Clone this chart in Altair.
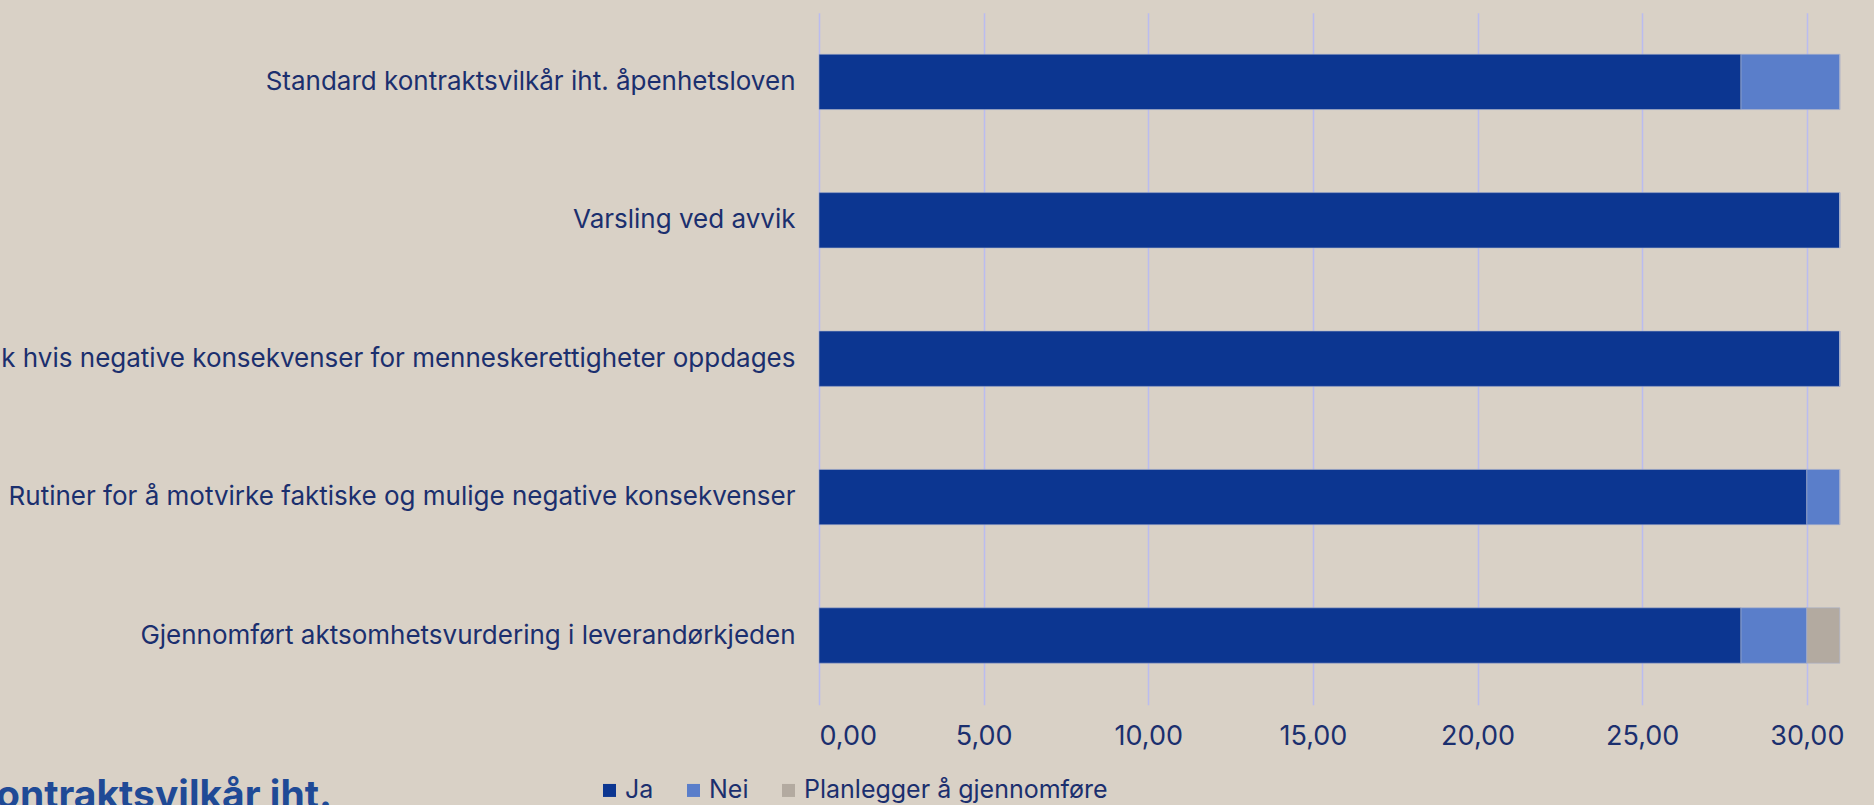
import altair as alt
import pandas as pd

categories = [
    "Standard kontraktsvilkår iht. åpenhetsloven",
    "Varsling ved avvik",
    "Iverksatte tiltak hvis negative konsekvenser for menneskerettigheter oppdages",
    "Rutiner for å motvirke faktiske og mulige negative konsekvenser",
    "Gjennomført aktsomhetsvurdering i leverandørkjeden",
]
series = ["Ja", "Nei", "Planlegger å gjennomføre"]
ja = [28, 31, 31, 30, 28]
nei = [3, 0, 0, 1, 2]
planlegger = [0, 0, 0, 0, 1]
x_ticks = [0, 5, 10, 15, 20, 25, 30]
bottom_title = "Standard kontraktsvilkår iht."

colors = ["#0C3691", "#5A7ECA", "#B3AAA0"]
BG = "#D9D1C6"
TXT = "#1B2F6E"
FONT = "Inter"
FS = 26

rows = []
for i, c in enumerate(categories):
    for j, (s, vals) in enumerate(zip(series, [ja, nei, planlegger])):
        rows.append({"kategori": c, "svar": s, "verdi": vals[i], "rekke": j})
df = pd.DataFrame(rows)

bars = alt.Chart(df).mark_bar(stroke="#A9B1CC", strokeWidth=0.6).encode(
    y=alt.Y("kategori:N", sort=categories, title=None,
            scale=alt.Scale(paddingInner=0.6, paddingOuter=0.3),
            axis=alt.Axis(labelFontSize=FS, labelColor=TXT, labelFont=FONT,
                          labelLimit=3000, labelPadding=24, ticks=False,
                          domain=False, grid=False)),
    x=alt.X("verdi:Q", stack="zero", title=None,
            scale=alt.Scale(domain=[0, 32.04], nice=False, zero=True),
            axis=alt.Axis(values=x_ticks, labelFontSize=27, labelColor=TXT,
                          labelFont=FONT, labelPadding=19, ticks=False,
                          domain=False, grid=True, gridColor="#BABCF0",
                          gridWidth=1.5,
                          labelExpr="replace(format(datum.value, '.2f'), '.', ',')")),
    color=alt.Color("svar:N", sort=series,
                    scale=alt.Scale(domain=series, range=colors),
                    legend=alt.Legend(title=None, orient="none", direction="horizontal",
                                      legendX=-222, legendY=765,
                                      symbolType="square", symbolSize=169,
                                      symbolStrokeWidth=0, labelFontSize=25,
                                      labelColor=TXT, labelFont=FONT,
                                      labelLimit=1000,
                                      labelOffset=3, columnPadding=27)),
    order=alt.Order("rekke:Q"),
)

title_df = pd.DataFrame({"t": [bottom_title]})
title_text = alt.Chart(title_df).mark_text(
    align="right", baseline="alphabetic", font=FONT, fontSize=39,
    fontWeight="bold", color="#1F4A96"
).encode(text="t:N", x=alt.value(332 - 819), y=alt.value(808 - 12.7))

chart = alt.layer(bars, title_text).properties(
    width=1055, height=692,
    autosize=alt.AutoSizeParams(type="none"),
    padding={"left": 819, "top": 12.7, "right": 0, "bottom": 100.3},
    background=BG,
).configure_view(stroke=None)

chart.save("out.html", embed_options={"renderer": "svg", "actions": False})
